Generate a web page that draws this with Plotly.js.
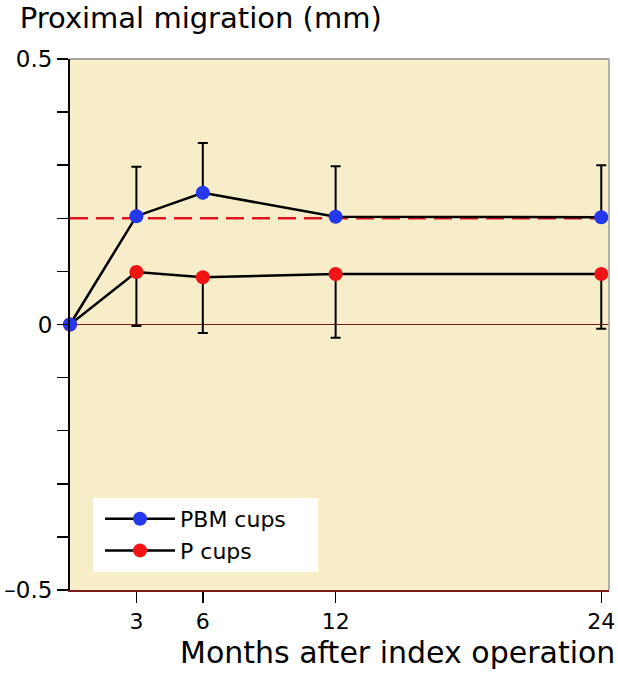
<!DOCTYPE html>
<html>
<head>
<meta charset="utf-8">
<script src="https://cdn.plot.ly/plotly-3.0.1.min.js"></script>
<style>html,body{margin:0;padding:0;background:#fff;}#chart{width:618px;height:674px;}</style>
</head>
<body>
<div id="chart"></div>
<script>
// Data
var months = [0, 3, 6, 12, 24];
var pbmMean = [0, 0.204, 0.248, 0.203, 0.202];
var pbmUpper = [0, 0.297, 0.342, 0.298, 0.300];
var pMean = [0, 0.099, 0.089, 0.095, 0.095];
var pLower = [0, -0.003, -0.016, -0.025, -0.008];
var referenceLevel = [0.2];
var xTickVals = [3, 6, 12, 24];
var xTickText = ['3', '6', '12', '24'];
var yTickVals = [-0.5, -0.4, -0.3, -0.2, -0.1, 0, 0.1, 0.2, 0.3, 0.4, 0.5];
var yTickText = ['\u20130.5', '', '', '', '', '0', '', '', '', '', '0.5'];

var FONT = 'DejaVu Sans, Verdana, sans-serif';

var pTrace = {
  x: months, y: pMean, name: 'P cups', type: 'scatter', mode: 'lines+markers',
  line: {color: '#000', width: 2.5},
  marker: {color: '#f01414', size: 14},
  error_y: {type: 'data', symmetric: false,
    array: months.map(function(){return 0;}),
    arrayminus: pMean.map(function(v, i){return i === 0 ? 0 : v - pLower[i];}),
    color: '#000', thickness: 2, width: 5},
  cliponaxis: false, legendrank: 2
};
var pbmTrace = {
  x: months, y: pbmMean, name: 'PBM cups', type: 'scatter', mode: 'lines+markers',
  line: {color: '#000', width: 2.5},
  marker: {color: '#2438f0', size: 14},
  error_y: {type: 'data', symmetric: false,
    array: pbmMean.map(function(v, i){return i === 0 ? 0 : pbmUpper[i] - v;}),
    arrayminus: months.map(function(){return 0;}),
    color: '#000', thickness: 2, width: 5},
  cliponaxis: false, legendrank: 1
};

var layout = {
  width: 618, height: 674,
  margin: {l: 70, r: 9, t: 59, b: 84},
  paper_bgcolor: '#ffffff',
  plot_bgcolor: '#f7edc9',
  font: {family: FONT, color: '#000'},
  title: {text: 'Proximal migration (mm)', font: {family: FONT, size: 29, color: '#000'},
    xref: 'container', x: 0.032, xanchor: 'left', yref: 'container', y: 0.974, yanchor: 'middle'},
  showlegend: true,
  legend: {x: 0.0557, y: 0.1036, xanchor: 'left', yanchor: 'middle', bgcolor: 'rgba(0,0,0,0)',
    borderwidth: 0, font: {family: FONT, size: 22, color: '#000'}, itemwidth: 70,
    tracegroupgap: 0},
  xaxis: {range: [0, 24.35], tickmode: 'array', tickvals: xTickVals, ticktext: xTickText,
    ticks: 'outside', ticklen: 11, tickwidth: 1.5, tickcolor: '#000',
    tickfont: {family: FONT, size: 22, color: '#000'},
    showgrid: false, zeroline: false, showline: true, linecolor: '#7a1a1a', linewidth: 2,
    fixedrange: true},
  yaxis: {range: [-0.5, 0.5], tickmode: 'array', tickvals: yTickVals, ticktext: yTickText,
    ticks: 'outside', ticklen: 11, tickwidth: 1.5, tickcolor: '#000',
    tickfont: {family: FONT, size: 23, color: '#000'},
    showgrid: false, zeroline: true, zerolinecolor: '#7a1a1a', zerolinewidth: 1.5,
    showline: true, linecolor: '#000', linewidth: 2, fixedrange: true},
  shapes: [
    {type: 'line', xref: 'paper', yref: 'y', x0: 0, x1: 1, y0: referenceLevel[0], y1: referenceLevel[0],
      line: {color: '#e0141e', width: 2.5, dash: '18px,8px'}, layer: 'below'},
    {type: 'rect', xref: 'paper', yref: 'paper', x0: 0.0427, x1: 0.460, y0: 0.0339, y1: 0.1733,
      fillcolor: '#ffffff', line: {width: 0}, layer: 'below'},
    {type: 'line', xref: 'paper', yref: 'paper', x0: 0, x1: 1, y0: 1, y1: 1,
      line: {color: '#888', width: 1.5}},
    {type: 'line', xref: 'paper', yref: 'paper', x0: 1, x1: 1, y0: 0, y1: 1,
      line: {color: '#999', width: 1.5}}
  ],
  annotations: [
    {text: 'Months after index operation', xref: 'paper', yref: 'paper',
      x: 1.0148, y: -0.1168, xanchor: 'right', yanchor: 'middle', showarrow: false,
      font: {family: FONT, size: 30, color: '#000'}}
  ]
};

Plotly.newPlot('chart', [pTrace, pbmTrace], layout, {displayModeBar: false, staticPlot: true});
</script>
</body>
</html>
